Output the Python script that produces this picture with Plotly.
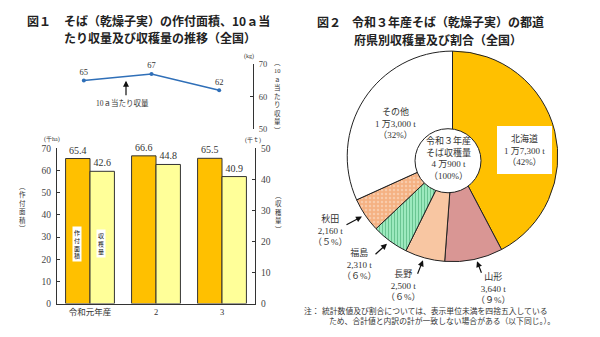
import plotly.graph_objects as go

# ---------------- data ----------------
years = ["令和元年産", "2", "3"]
area_kha = [65.4, 66.6, 65.5]          # 作付面積 (千ha)
harvest_kt = [42.6, 44.8, 40.9]        # 収穫量 (千t)
yield_kg = [65, 67, 62]                # 10a当たり収量 (kg)

pref = ["北海道", "山形", "長野", "福島", "秋田", "その他"]
pref_t = [17300, 3640, 2500, 2310, 2160, 13000]
pref_pct = [42, 9, 6, 6, 5, 32]
total_t = 40900
total_pct = 100

area_ticks = [0, 10, 20, 30, 40, 50, 60, 70]
harvest_ticks = [0, 10, 20, 30, 40, 50]
yield_ticks = [50, 60, 70]

W, H = 600, 337
def px(x): return x / W
def py(y): return 1 - y / H

SERIF = "Liberation Serif, 'Noto Sans CJK JP'"
SANS = "'Noto Sans CJK JP'"
TXT = "#333333"

def fw(s):
    return "".join(chr(ord(c) + 0xFEE0) if c.isdigit() else c for c in s)

def fmt_t(v):
    if v >= 10000:
        return f"{v // 10000} 万{v % 10000:,} t"
    return f"{v:,} t"

def fmt_pct(p):
    return f"（{fw(str(p)) if p < 10 else p}%）"

fig = go.Figure()

# ---------------- bars ----------------
fig.add_trace(go.Bar(
    x=years, y=area_kha, xaxis="x", yaxis="y",
    width=0.37, offset=-0.37,
    marker=dict(color="#FFC000", line=dict(color="#333333", width=1)),
    texttemplate="%{y:.1f}", textposition="outside",
    textfont=dict(family=SERIF, size=10, color=TXT),
    cliponaxis=False, hoverinfo="skip"))
fig.add_trace(go.Bar(
    x=years, y=harvest_kt, xaxis="x", yaxis="y2",
    width=0.37, offset=0,
    marker=dict(color="#FFFF99", line=dict(color="#333333", width=1)),
    texttemplate="%{y:.1f}", textposition="outside",
    textfont=dict(family=SERIF, size=10, color=TXT),
    cliponaxis=False, hoverinfo="skip"))

# ---------------- line ----------------
fig.add_trace(go.Scatter(
    x=years, y=yield_kg, xaxis="x2", yaxis="y3",
    mode="lines+markers+text",
    line=dict(color="#2F6FB8", width=1.6),
    marker=dict(color="#2F6FB8", size=4),
    text=[str(v) for v in yield_kg], textposition="top center",
    textfont=dict(family=SERIF, size=8.5, color=TXT),
    cliponaxis=False, hoverinfo="skip"))

# ---------------- pie ----------------
fig.add_trace(go.Pie(
    labels=pref, values=pref_t, sort=False, direction="clockwise",
    rotation=0, hole=0, textinfo="none", hoverinfo="skip",
    domain=dict(x=[px(344), px(561)], y=[py(264.5), py(47.5)]),
    marker=dict(
        colors=["#FFC000", "#D99694", "#F8C6A2", "#A6F0C6", "#F4B183", "#FFFFFF"],
        line=dict(color="#222222", width=1),
        pattern=dict(
            shape=["", "", "", "|", ".", ""],
            fillmode="overlay",
            fgcolor=["#FFC000", "#D99694", "#F8C6A2", "#2E9A5E", "#FBE3D2", "#FFFFFF"],
            size=[6, 6, 6, 3, 4, 6],
            solidity=[0.3, 0.3, 0.3, 0.45, 0.3, 0.3],
        ),
    ),
    showlegend=False))

axis_common = dict(showgrid=False, zeroline=False, showline=True, linecolor="#333333",
                   linewidth=1, ticks="inside", ticklen=3, tickcolor="#333333",
                   tickfont=dict(family=SERIF, size=9.5, color="#444444"))

fig.update_layout(
    width=W, height=H, margin=dict(l=0, r=0, t=0, b=0),
    paper_bgcolor="white", plot_bgcolor="rgba(0,0,0,0)", showlegend=False,
    xaxis=dict(domain=[px(57), px(255)], anchor="y", type="category",
               showline=True, linecolor="#333333", ticks="", showgrid=False,
               tickfont=dict(family=SERIF, size=8.5, color="#333333"),
               range=[-0.5, 2.5]),
    yaxis=dict(domain=[py(307.7), py(147.7)], range=[0, 70], tickvals=area_ticks,
               anchor="x", ticklabelstandoff=3, **axis_common),
    yaxis2=dict(domain=[py(307.7), py(147.7)], range=[0, 50], tickvals=harvest_ticks,
                anchor="x", overlaying="y", side="right", ticklabelstandoff=3, **axis_common),
    xaxis2=dict(domain=[px(50), px(253)], anchor="y3", type="category",
                range=[-0.5, 2.5], visible=False),
    yaxis3=dict(domain=[py(128), py(61)], range=[50, 70], tickvals=yield_ticks,
                anchor="x2", side="right", ticklabelstandoff=3,
                **{**axis_common, "tickfont": dict(family=SERIF, size=8.5, color="#444444")}),
)

ann = []
def text(x, y, s, size=9, family=SERIF, color=TXT, xanchor="center", **kw):
    ann.append(dict(x=px(x), y=py(y), xref="paper", yref="paper", text=s,
                    showarrow=False, xanchor=xanchor, yanchor="middle",
                    font=dict(family=family, size=size, color=color), **kw))

def arrow(tx, ty, hx, hy):
    ann.append(dict(x=px(hx), y=py(hy), xref="paper", yref="paper", text="",
                    showarrow=True, ax=tx - hx, ay=ty - hy, axref="pixel", ayref="pixel",
                    arrowhead=2, arrowsize=1, arrowwidth=1.2, arrowcolor="#111111",
                    standoff=0, startstandoff=0))

def vtext(chars, x, yc, size=6.5):
    text(x, yc, "<br>".join(chars), size=size, family=SERIF, borderpad=0)

# titles
text(25, 15.5, "<b>図１</b>", size=12, family=SANS, color="#222", xanchor="left")
text(62, 15.5, "<b>そば（乾燥子実）の作付面積、10ａ当</b>", size=12, family=SANS, color="#222", xanchor="left")
text(62, 34, "<b>たり収量及び収穫量の推移（全国）</b>", size=12, family=SANS, color="#222", xanchor="left")
text(315, 17, "<b>図２</b>", size=12, family=SANS, color="#222", xanchor="left")
text(350, 17, "<b>令和３年産そば（乾燥子実）の都道</b>", size=12, family=SANS, color="#222", xanchor="left")
text(352, 36, "<b>府県別収穫量及び割合（全国）</b>", size=12, family=SANS, color="#222", xanchor="left")

# units
text(249, 53, "(kg)", size=6)
text(52, 138, "(千ha)", size=6)
text(253, 139, "(千ｔ)", size=6)

# axis titles (vertical, stacked)
vtext(["︵", "10", "ａ", "当", "た", "り", "収", "量", "︶"], 277, 94.5)
vtext(["︵", "作", "付", "面", "積", "︶"], 22, 209)
vtext(["︵", "収", "穫", "量", "︶"], 278, 213.5)

# line annotation
text(122, 101, "10ａ当たり収量", size=7.5)
arrow(126, 94, 126, 78)

# in-bar labels
ann.append(dict(x=px(77), y=py(246), xref="paper", yref="paper", text="作<br>付<br>面<br>積",
                showarrow=False, bgcolor="white", borderpad=1,
                xanchor="center", yanchor="middle",
                font=dict(family=SANS, size=6, color="#111111")))
ann.append(dict(x=px(101), y=py(245.5), xref="paper", yref="paper", text="収<br>穫<br>量",
                showarrow=False, bgcolor="white", borderpad=1,
                xanchor="center", yanchor="middle",
                font=dict(family=SANS, size=6, color="#111111")))

# pie labels
labels = {p: (v, c) for p, v, c in zip(pref, pref_t, pref_pct)}
def plabel(name):
    v, c = labels[name]
    return f"{name}<br>{fmt_t(v)}<br>{fmt_pct(c)}"

ann.append(dict(x=px(524), y=py(149.5), xref="paper", yref="paper", text=plabel("北海道"),
                showarrow=False, bgcolor="#FFFFFF", bordercolor="#FFFFFF", borderwidth=1,
                borderpad=6, xanchor="center", yanchor="middle",
                font=dict(family=SERIF, size=9, color=TXT)))
text(395, 121.5, plabel("その他"), size=9)
text(330, 232, plabel("秋田"), size=9)
text(359, 266.7, plabel("福島"), size=9)
text(403, 289.5, plabel("長野"), size=9)
text(493, 292, plabel("山形"), size=9)
arrow(345, 227, 362, 218)
arrow(374, 258, 387, 246)
arrow(417, 278, 423, 263)
arrow(482, 277, 477, 264)

# donut hole & center text
hole_cx, hole_cy, hole_r = 448, 160.5, 33
shapes = [
    dict(type="circle", xref="paper", yref="paper", layer="above",
         x0=px(hole_cx - hole_r), x1=px(hole_cx + hole_r),
         y0=py(hole_cy + hole_r), y1=py(hole_cy - hole_r),
         fillcolor="white", line=dict(color="#222222", width=1)),
]
text(448, 158, f"令和３年産<br>そば収穫量<br>{fmt_t(total_t)}<br>（{total_pct}%）", size=9)

# note
text(302, 314.5, "注：", size=7.8, family=SANS, xanchor="left")
text(320, 314.5, "統計数値及び割合については、表示単位未満を四捨五入している", size=7.8, family=SANS, xanchor="left")
text(327, 325.5, "ため、合計値と内訳の計が一致しない場合がある（以下同じ。）。", size=7.8, family=SANS, xanchor="left")

fig.update_layout(annotations=ann, shapes=shapes)
fig.write_html("out.html")
